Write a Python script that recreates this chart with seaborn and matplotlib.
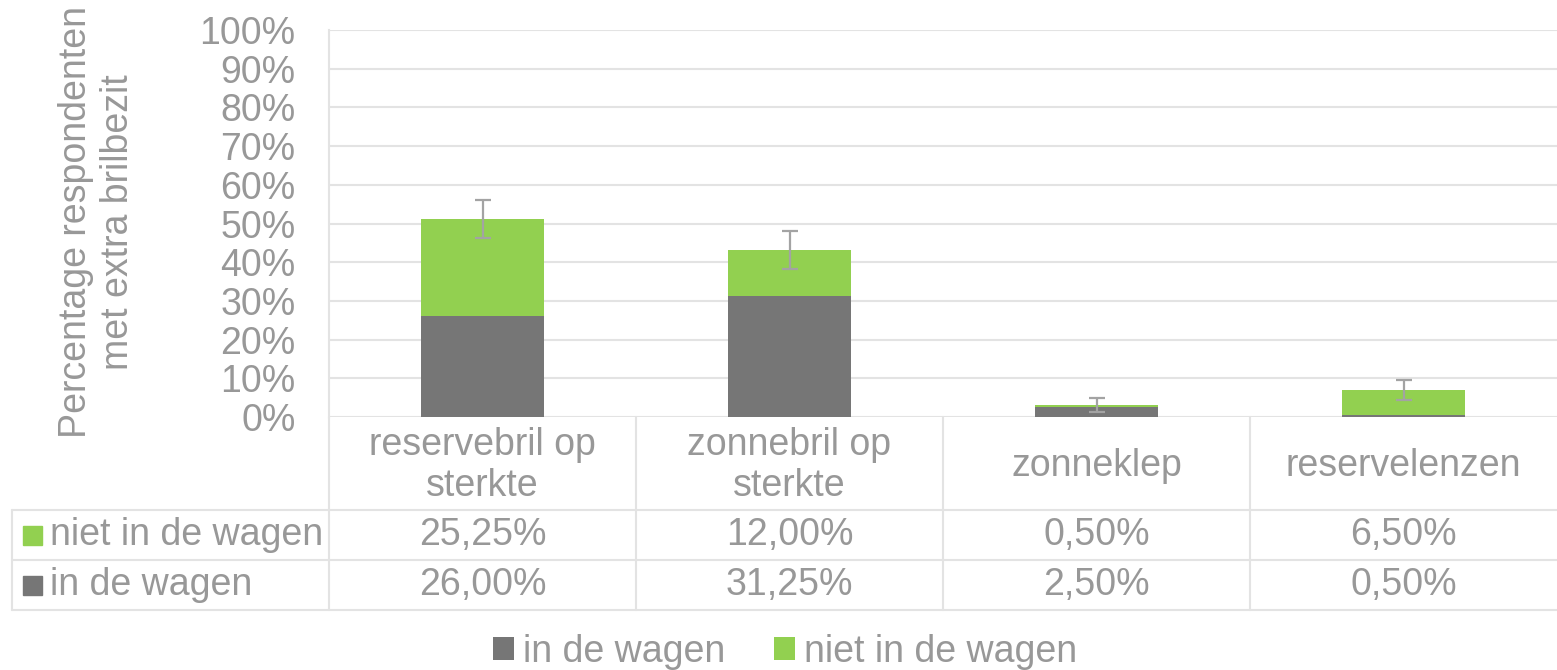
import matplotlib
matplotlib.use("Agg")
import matplotlib.pyplot as plt
import seaborn as sns
import numpy as np
from matplotlib.lines import Line2D
from matplotlib.patches import Patch

categories = ["reservebril op\nsterkte", "zonnebril op\nsterkte", "zonneklep", "reservelenzen"]
in_de_wagen = [26.00, 31.25, 2.50, 0.50]
niet_in_de_wagen = [25.25, 12.00, 0.50, 6.50]
error_margin = [4.9, 4.9, 1.8, 2.6]
series_names = ["in de wagen", "niet in de wagen"]
yticks = [0, 10, 20, 30, 40, 50, 60, 70, 80, 90, 100]

GREEN = "#92d050"
GREY = "#767676"
TEXT = "#989898"
LINE = "#e3e3e3"
FS = 27

sns.set_theme(style="white")
plt.rcParams["font.family"] = ["Liberation Sans", "DejaVu Sans"]

W, H = 1557, 670
fig = plt.figure(figsize=(W / 100, H / 100), dpi=100)

def fx(x):
    return x / W

def fy(y):
    return 1 - y / H

left_px, right_px, top_px, bot_px = 329, 1557, 30, 417
ax = fig.add_axes([fx(left_px), fy(bot_px), fx(right_px) - fx(left_px), fy(top_px) - fy(bot_px)])

totals = [a + b for a, b in zip(in_de_wagen, niet_in_de_wagen)]
x_pos = np.arange(len(categories))
sns.barplot(x=x_pos, y=totals, color=GREEN, width=0.4, saturation=1, ax=ax,
            linewidth=0, zorder=2)
sns.barplot(x=x_pos, y=in_de_wagen, color=GREY, width=0.4, saturation=1, ax=ax,
            linewidth=0, zorder=3)
ax.errorbar(x_pos, totals, yerr=error_margin, fmt="none", ecolor="#a3a3a3",
            elinewidth=1.6, capsize=6, capthick=1.6, zorder=4)

ax.set_xlim(-0.5, len(categories) - 0.5)
ax.set_ylim(0, 100)
ax.set_yticks(yticks)
ax.set_yticklabels([f"{t}%" for t in yticks], fontsize=FS, color=TEXT)
ax.tick_params(axis="y", length=0, pad=24)
ax.set_xticks([])
ax.set_xlabel("")
ax.set_ylabel("")
ax.yaxis.grid(True, color=LINE, lw=1.5, zorder=0)
ax.set_axisbelow(True)
for s in ["top", "right", "bottom"]:
    ax.spines[s].set_visible(False)
ax.spines["left"].set_color(LINE)
ax.spines["left"].set_linewidth(1.5)

fig.text(fx(97), fy(222), "Percentage respondenten\nmet extra brilbezit", rotation=90,
         ha="center", va="center", multialignment="center", fontsize=FS, color=TEXT)

# data table under the chart
def hline(y, x0, x1):
    fig.add_artist(Line2D([fx(x0), fx(x1)], [fy(y), fy(y)], color=LINE, lw=1.5))

def vline(x, y0, y1):
    fig.add_artist(Line2D([fx(x), fx(x)], [fy(y0), fy(y1)], color=LINE, lw=1.5))

row_cat, row1, row2, row_end = 417, 510, 560, 610
hline(row1, 12, W)
hline(row2, 12, W)
hline(row_end, 12, W)
vline(12, row1, row_end)
vline(left_px, row_cat, row_end)
cell_w = (right_px - left_px) / len(categories)
for i in range(1, len(categories)):
    vline(left_px + i * cell_w, row_cat, row_end)

for i, cat in enumerate(categories):
    cx = fx(left_px + (i + 0.5) * cell_w)
    fig.text(cx, fy((row_cat + row1) / 2 + 2), cat, ha="center", va="center",
             multialignment="center", fontsize=FS, color=TEXT)
    fig.text(cx, fy((row1 + row2) / 2), f"{niet_in_de_wagen[i]:.2f}%".replace(".", ","),
             ha="center", va="center", fontsize=FS, color=TEXT)
    fig.text(cx, fy((row2 + row_end) / 2), f"{in_de_wagen[i]:.2f}%".replace(".", ","),
             ha="center", va="center", fontsize=FS, color=TEXT)

for name, col, y0, y1 in [(series_names[1], GREEN, row1, row2), (series_names[0], GREY, row2, row_end)]:
    yc = (y0 + y1) / 2
    fig.add_artist(plt.Rectangle((fx(23), fy(yc + 10)), fx(19), fy(0) - fy(19), color=col,
                                 transform=fig.transFigure))
    fig.text(fx(50), fy(yc), name, ha="left", va="center", fontsize=FS, color=TEXT)

handles = [Patch(facecolor=GREY, edgecolor="none", label=series_names[0]),
           Patch(facecolor=GREEN, edgecolor="none", label=series_names[1])]
leg = fig.legend(handles=handles, loc="center", bbox_to_anchor=(fx(785), fy(652)), ncol=2,
                 frameon=False, fontsize=FS, handlelength=0.55, handleheight=0.55,
                 handletextpad=0.25, columnspacing=1.3, borderpad=0)
for t in leg.get_texts():
    t.set_color(TEXT)

fig.savefig("out.png", dpi=100)
